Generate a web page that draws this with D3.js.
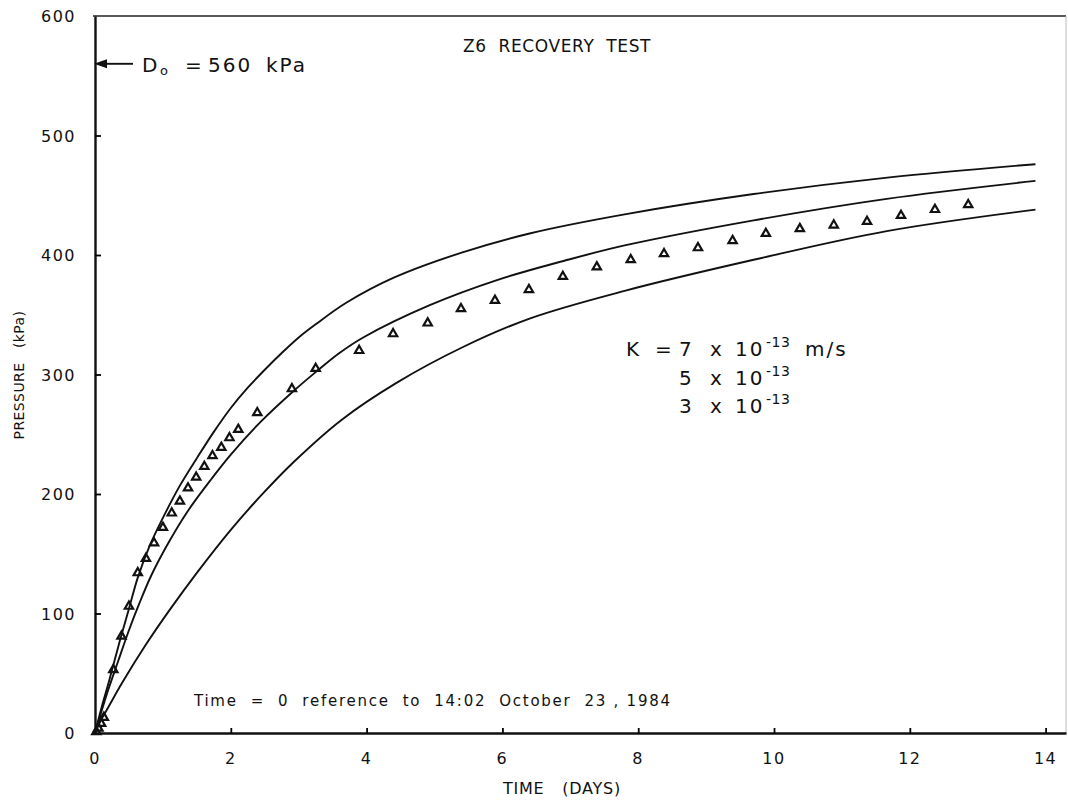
<!DOCTYPE html>
<html>
<head>
<meta charset="utf-8">
<script src="https://cdn.jsdelivr.net/npm/d3@7"></script>
<style>
  body { margin: 0; background: #fff; }
  text { font-family: "DejaVu Sans", sans-serif; fill: #111; white-space: pre; }
</style>
</head>
<body>
<svg width="1068" height="802"></svg>
<script>

// curve readings (days, kPa)
var curveK7 = [[0,0],[0.1,22],[0.2,42],[0.37,78],[0.5,104],[0.63,130],[0.8,156],[1.0,180],[1.25,207],[1.5,230],
  [1.75,252],[2.0,272],[2.25,289],[2.5,304],[2.75,318],[3.0,331],[3.25,342],[3.7,360],[4.4,381],[5.4,402],
  [6.4,418],[7.8,434],[9.7,451],[11.7,465],[13.85,476]];
var curveK5 = [[0,0],[0.1,19],[0.2,37],[0.34,60],[0.5,86],[0.65,108],[0.83,132],[1.08,159],[1.37,186],[1.72,213],
  [2.0,233],[2.45,261],[2.9,285],[3.25,302],[3.6,318],[3.95,331],[4.93,358],[5.92,379],[6.9,395],[7.8,408],
  [9.7,429],[11.66,447],[13.85,462]];
var curveK3 = [[0,0],[0.1,12],[0.2,22],[0.4,42],[0.75,74],[1.1,103],[1.5,134],[2.0,170],[2.45,199],[2.93,227],
  [3.63,262],[4.44,293],[5.42,323],[6.41,347],[7.8,370],[9.7,396],[11.66,420],[13.85,438]];

// measured recovery pressures
var obsDays = [0.02,0.05,0.09,0.13,0.27,0.39,0.50,0.63,0.75,0.87,1.00,1.13,1.25,1.37,1.49,1.61,1.73,1.86,1.98,2.11,
  2.39,2.90,3.25,3.89,4.39,4.90,5.39,5.89,6.39,6.89,7.39,7.89,8.38,8.88,9.39,9.88,10.38,10.88,11.37,11.87,12.37,12.86];
var obsKPa = [1,4,8,13,53,81,106,134,146,159,172,184,194,205,214,223,232,239,247,254,
  268,288,305,320,334,343,355,362,371,382,390,396,401,406,412,418,422,425,428,433,438,442];

var xTicks = [0,2,4,6,8,10,12,14];
var yTicks = [0,100,200,300,400,500,600];

var svg = d3.select("svg");

var x = d3.scaleLinear().domain([0, 14.3]).range([95, 1066]);
var y = d3.scaleLinear().domain([0, 600]).range([733, 16]);

// frame
svg.append("line").attr("x1", x(0) - 2).attr("x2", x(14.3)).attr("y1", y(600)).attr("y2", y(600))
  .attr("stroke", "#222").attr("stroke-width", 1.6);
svg.append("line").attr("x1", x(14.3)).attr("x2", x(14.3)).attr("y1", y(600)).attr("y2", y(0))
  .attr("stroke", "#bbb").attr("stroke-width", 1);

var xAxis = svg.append("g").attr("transform", "translate(0," + y(0) + ")")
  .call(d3.axisBottom(x).tickValues(xTicks.slice(1)).tickSize(-5).tickFormat("").tickSizeOuter(0));
xAxis.select(".domain").attr("stroke", "#111").attr("stroke-width", 2.4);
xAxis.selectAll(".tick line").attr("stroke-width", 1.8);

var yAxis = svg.append("g").attr("transform", "translate(" + x(0) + ",0)")
  .call(d3.axisLeft(y).tickValues(yTicks.slice(1, -1)).tickSize(-6).tickFormat("").tickSizeOuter(0));
yAxis.select(".domain").attr("stroke", "#111").attr("stroke-width", 2.4);
yAxis.selectAll(".tick line").attr("stroke-width", 1.8);

// tick labels
svg.selectAll(".xl").data(xTicks).enter().append("text")
  .attr("x", function(d) { return x(d); }).attr("y", 764)
  .attr("text-anchor", "middle").attr("font-size", 16).attr("letter-spacing", 1.5)
  .text(function(d) { return d; });
svg.selectAll(".yl").data(yTicks).enter().append("text")
  .attr("x", 76).attr("y", function(d) { return y(d) + 6; })
  .attr("text-anchor", "end").attr("font-size", 16).attr("letter-spacing", 1.5)
  .text(function(d) { return d; });

// curves
var line = d3.line().x(function(d) { return x(d[0]); }).y(function(d) { return y(d[1]); })
  .curve(d3.curveCatmullRom.alpha(0.5));
[curveK7, curveK5, curveK3].forEach(function(c) {
  svg.append("path").datum(c).attr("d", line)
    .attr("fill", "none").attr("stroke", "#111").attr("stroke-width", 1.9);
});

// observed triangles
var tri = d3.symbol().type(d3.symbolTriangle).size(30);
svg.selectAll(".obs").data(obsDays).enter().append("path")
  .attr("d", tri)
  .attr("transform", function(d, i) { return "translate(" + x(d) + "," + y(obsKPa[i]) + ")"; })
  .attr("fill", "none").attr("stroke", "#111").attr("stroke-width", 2.2);

// place words of a label at fixed x offsets
function words(xs, yy, size, parts) {
  var t = svg.append("text").attr("y", yy).attr("font-size", size);
  parts.forEach(function(p, i) {
    var s = t.append("tspan").attr("x", xs[i]).text(p.t);
    if (p.sup) s.attr("font-size", size * 0.7).attr("y", yy - 9).attr("letter-spacing", 0.5);
    else if (p.sub) s.attr("font-size", size * 0.65).attr("y", yy + 3);
    else s.attr("y", yy).attr("letter-spacing", 2);
  });
  return t;
}

// title
svg.append("text").attr("x", 557).attr("y", 52).attr("text-anchor", "middle")
  .attr("font-size", 17).attr("letter-spacing", 0.6).text("Z6  RECOVERY  TEST");

// D0 arrow
var d0y = y(560);
svg.append("line").attr("x1", x(0) + 10).attr("x2", 133).attr("y1", d0y).attr("y2", d0y)
  .attr("stroke", "#111").attr("stroke-width", 1.9);
svg.append("path").attr("d", "M" + (x(0) - 1) + "," + d0y + "l13,-4.5l0,9z").attr("fill", "#111");
words([142, 160, 185, 208, 266], d0y + 8, 20,
  [{t: "D"}, {t: "o", sub: true}, {t: "="}, {t: "560"}, {t: "kPa"}]);

// K annotation
words([626, 655, 679, 710, 735, 766, 805], 356, 20,
  [{t: "K"}, {t: "="}, {t: "7"}, {t: "x"}, {t: "10"}, {t: "-13", sup: true}, {t: "m/s"}]);
words([679, 710, 735, 766], 385, 20, [{t: "5"}, {t: "x"}, {t: "10"}, {t: "-13", sup: true}]);
words([679, 710, 735, 766], 413, 20, [{t: "3"}, {t: "x"}, {t: "10"}, {t: "-13", sup: true}]);

// time reference note, stretched to its span in the figure
svg.append("text").attr("x", 194).attr("y", 706).attr("font-size", 15)
  .attr("textLength", 476).attr("lengthAdjust", "spacing")
  .text("Time  =  0  reference  to  14:02  October  23 , 1984");

svg.append("text").attr("x", 562).attr("y", 794).attr("text-anchor", "middle")
  .attr("font-size", 16).attr("letter-spacing", 0.8).text("TIME   (DAYS)");
svg.append("text").attr("transform", "translate(24,375) rotate(-90)").attr("text-anchor", "middle")
  .attr("font-size", 14).attr("letter-spacing", 0.4).attr("fill", "#333").text("PRESSURE   (kPa)");
</script>
</body>
</html>
